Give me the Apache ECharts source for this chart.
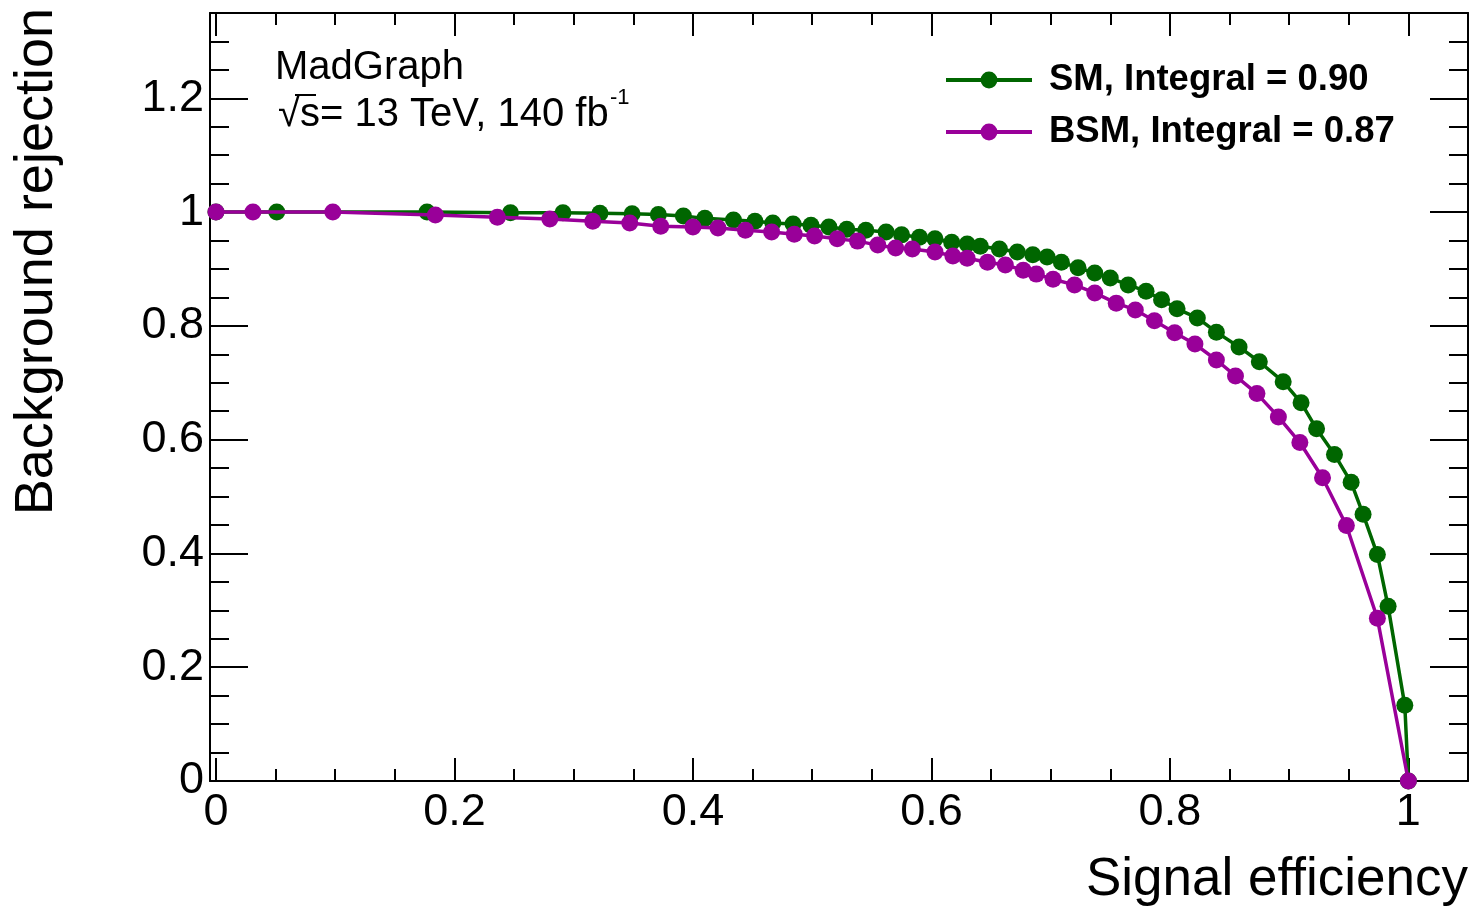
<!DOCTYPE html>
<html>
<head>
<meta charset="utf-8">
<script src="https://cdn.jsdelivr.net/npm/echarts@6/dist/echarts.min.js"></script>
<style>
html,body{margin:0;padding:0;background:#fff;}
#c{width:1475px;height:907px;}
</style>
</head>
<body>
<div id="c"></div>
<script>
// ---- data ----
const smX = [0.0, 0.051, 0.177, 0.247, 0.291, 0.322, 0.349, 0.371, 0.392, 0.410, 0.434, 0.452, 0.467, 0.484, 0.499, 0.514, 0.529, 0.545, 0.562, 0.575, 0.590, 0.603, 0.617, 0.630, 0.641, 0.657, 0.672, 0.685, 0.697, 0.709, 0.723, 0.737, 0.750, 0.765, 0.780, 0.793, 0.806, 0.823, 0.839, 0.858, 0.875, 0.895, 0.910, 0.923, 0.938, 0.952, 0.962, 0.974, 0.983, 0.997, 1.0];
const smY = [1.0, 1.0, 1.0, 0.999, 0.999, 0.998, 0.997, 0.996, 0.993, 0.989, 0.986, 0.984, 0.981, 0.979, 0.977, 0.974, 0.970, 0.968, 0.965, 0.960, 0.956, 0.953, 0.947, 0.944, 0.940, 0.935, 0.930, 0.925, 0.921, 0.912, 0.902, 0.893, 0.884, 0.872, 0.861, 0.846, 0.830, 0.814, 0.789, 0.763, 0.737, 0.702, 0.665, 0.619, 0.574, 0.525, 0.469, 0.398, 0.307, 0.133, 0.0];
const bsmX = [0.0, 0.031, 0.098, 0.184, 0.236, 0.280, 0.316, 0.347, 0.373, 0.400, 0.421, 0.444, 0.466, 0.485, 0.502, 0.521, 0.538, 0.555, 0.570, 0.584, 0.603, 0.618, 0.630, 0.647, 0.662, 0.677, 0.688, 0.702, 0.720, 0.737, 0.755, 0.771, 0.787, 0.804, 0.821, 0.839, 0.855, 0.873, 0.891, 0.909, 0.928, 0.948, 0.974, 1.0];
const bsmY = [1.0, 1.0, 1.0, 0.995, 0.991, 0.988, 0.984, 0.981, 0.975, 0.974, 0.972, 0.968, 0.965, 0.961, 0.958, 0.953, 0.949, 0.942, 0.937, 0.935, 0.930, 0.923, 0.919, 0.912, 0.907, 0.898, 0.891, 0.882, 0.872, 0.858, 0.840, 0.828, 0.809, 0.788, 0.768, 0.740, 0.712, 0.681, 0.640, 0.595, 0.533, 0.449, 0.286, 0.0];
const seriesNames = ['SM, Integral = 0.90', 'BSM, Integral = 0.87'];
const xMajor = [0, 0.2, 0.4, 0.6, 0.8, 1.0];
const xMinor = [0.05, 0.1, 0.15, 0.25, 0.3, 0.35, 0.45, 0.5, 0.55, 0.65, 0.7, 0.75, 0.85, 0.9, 0.95];
const yMajor = [0, 0.2, 0.4, 0.6, 0.8, 1.0, 1.2];
const yMinor = [0.05, 0.1, 0.15, 0.25, 0.3, 0.35, 0.45, 0.5, 0.55, 0.65, 0.7, 0.75, 0.85, 0.9, 0.95, 1.05, 1.1, 1.15, 1.25, 1.3];
const xTitle = 'Signal efficiency';
const yTitle = 'Background rejection';

const FONT = 'Liberation Sans, Arial, Helvetica, sans-serif';
const zip = (a, b) => a.map((v, i) => [v, b[i]]);

const blk = {color: '#000', width: 2};
function xAx(pos, major, withLabel) {
  return {
    type: 'value', min: -0.005, max: 1.05, position: pos,
    splitLine: {show: false},
    axisLine: {show: major, onZero: false, lineStyle: blk},
    axisTick: {show: true, inside: true, length: major ? 23 : 12,
      customValues: major ? xMajor : xMinor, lineStyle: blk},
    axisLabel: withLabel ? {show: true, customValues: xMajor, color: '#000', fontSize: 45,
      fontFamily: FONT, margin: 9} : {show: false}
  };
}
function yAx(pos, major, withLabel) {
  return {
    type: 'value', min: 0, max: 1.35, position: pos,
    splitLine: {show: false},
    axisLine: {show: major, onZero: false, lineStyle: blk},
    axisTick: {show: true, inside: true, length: major ? 38 : 19,
      customValues: major ? yMajor : yMinor, lineStyle: blk},
    axisLabel: withLabel ? {show: true, customValues: yMajor, color: '#000', fontSize: 45,
      fontFamily: FONT, margin: 6} : {show: false}
  };
}

const chart = echarts.init(document.getElementById('c'), null, {renderer: 'canvas'});
chart.setOption({
  backgroundColor: '#fff',
  animation: false,
  grid: {left: 210, right: 7, top: 13, bottom: 126, containLabel: false},
  xAxis: [xAx('bottom', true, true), xAx('bottom', false, false), xAx('top', true, false), xAx('top', false, false)],
  yAxis: [yAx('left', true, true), yAx('left', false, false), yAx('right', true, false), yAx('right', false, false)],
  legend: {
    orient: 'vertical', left: 939, top: 55,
    itemWidth: 86, itemHeight: 21, itemGap: 12,
    data: seriesNames,
    lineStyle: {width: 4},
    textStyle: {color: '#000', fontSize: 36.5, fontWeight: 'bold', fontFamily: FONT,
      lineHeight: 40, padding: [0, 0, 0, 12]}
  },
  series: [
    {name: seriesNames[0], type: 'line', data: zip(smX, smY), symbol: 'circle', symbolSize: 17,
      color: '#006600', lineStyle: {width: 3.5, color: '#006600'}, itemStyle: {color: '#006600'}, z: 3},
    {name: seriesNames[1], type: 'line', data: zip(bsmX, bsmY), symbol: 'circle', symbolSize: 17,
      color: '#990099', lineStyle: {width: 3.5, color: '#990099'}, itemStyle: {color: '#990099'}, z: 4}
  ],
  graphic: [
    {type: 'text', x: 1468, y: 880, style: {text: xTitle, fontSize: 53, fontFamily: FONT, fill: '#000',
      textAlign: 'right', align: 'right', textVerticalAlign: 'middle', verticalAlign: 'middle'}},
    {type: 'text', x: 37, y: 8, rotation: Math.PI / 2, style: {text: yTitle, fontSize: 54, fontFamily: FONT, fill: '#000',
      textAlign: 'right', align: 'right', textVerticalAlign: 'middle', verticalAlign: 'middle'}},
    {type: 'text', x: 275, y: 68, style: {text: 'MadGraph', fontSize: 40, fontFamily: FONT, fill: '#000',
      textAlign: 'left', align: 'left', textVerticalAlign: 'middle', verticalAlign: 'middle'}},
    {type: 'text', x: 278, y: 115, style: {text: '\u221As= 13 TeV, 140 fb', fontSize: 40, fontFamily: FONT, fill: '#000',
      textAlign: 'left', align: 'left', textVerticalAlign: 'middle', verticalAlign: 'middle'}},
    {type: 'text', x: 610, y: 98, style: {text: '-1', fontSize: 22, fontFamily: FONT, fill: '#000',
      textAlign: 'left', align: 'left', textVerticalAlign: 'middle', verticalAlign: 'middle'}},
    {type: 'line', shape: {x1: 295, y1: 95, x2: 316, y2: 95}, style: {stroke: '#000', lineWidth: 2}}
  ]
});
</script>
</body>
</html>
